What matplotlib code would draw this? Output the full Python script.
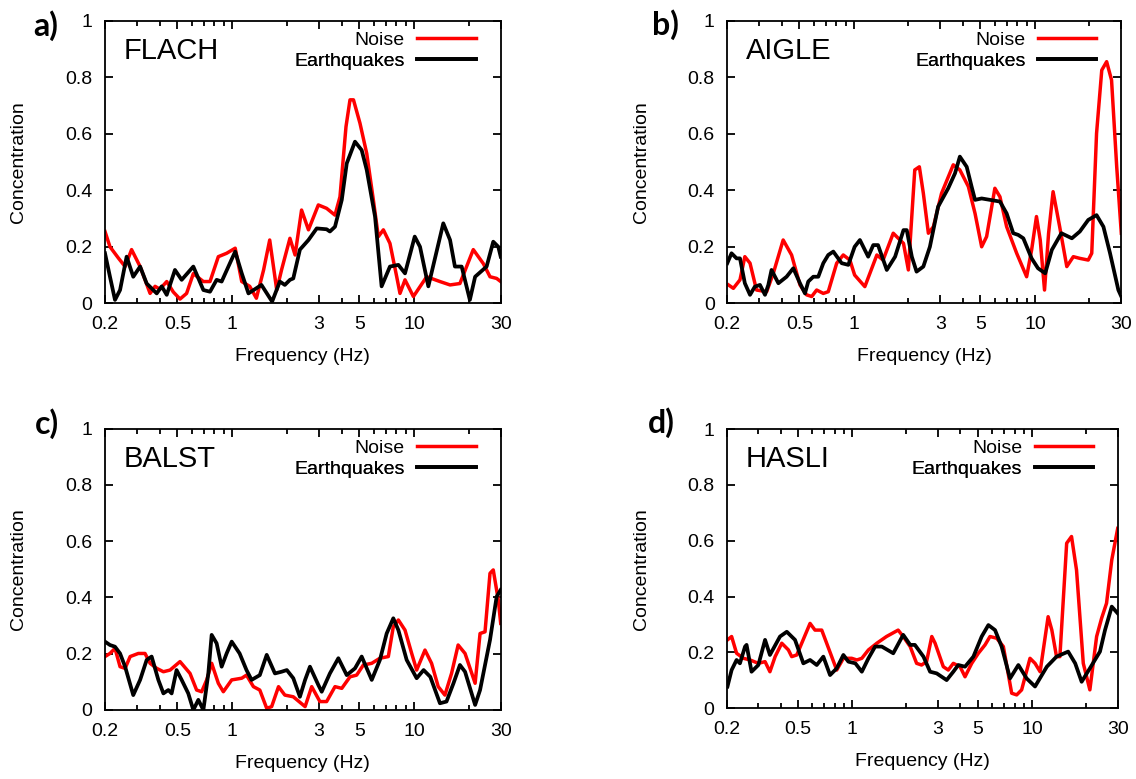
import matplotlib
matplotlib.use("Agg")
import matplotlib.pyplot as plt

plt.rcParams['font.family'] = ['Liberation Sans', 'DejaVu Sans']

# ---------------- data ----------------
stations = ["FLACH", "AIGLE", "BALST", "HASLI"]
panel_labels = ["a)", "b)", "c)", "d)"]
series_labels = ["Noise", "Earthquakes"]
xtick_vals = [0.2, 0.5, 1, 3, 5, 10, 30]
xtick_labels = ["0.2", "0.5", "1", "3", "5", "10", "30"]
xminor_vals = [0.3, 0.4, 0.6, 0.7, 0.8, 0.9, 2, 4, 6, 7, 8, 9, 20]
ytick_vals = [0, 0.2, 0.4, 0.6, 0.8, 1.0]
ytick_labels = ["0", "0.2", "0.4", "0.6", "0.8", "1"]

# FLACH
freq_noise_a = [0.2, 0.213, 0.237, 0.258, 0.280, 0.312, 0.354, 0.377, 0.401, 0.437, 0.475, 0.517, 0.562, 0.612,
                0.695, 0.756, 0.840, 0.933, 1.04, 1.13, 1.25, 1.36, 1.49, 1.61, 1.76, 1.87, 2.08, 2.22, 2.41, 2.63,
                2.98, 3.31, 3.68, 3.92, 4.23, 4.45, 4.65, 5.05, 5.50, 5.98, 6.37, 6.79, 7.38, 8.04, 8.38, 8.93, 9.93,
                11.75, 13.9, 15.8, 17.9, 21.2, 24.1, 26.2, 28.5, 30]
conc_noise_a = [0.254, 0.20, 0.16, 0.13, 0.19, 0.13, 0.035, 0.06, 0.05, 0.077, 0.04, 0.015, 0.035, 0.105, 0.077,
                0.077, 0.165, 0.177, 0.195, 0.077, 0.06, 0.018, 0.118, 0.224, 0.047, 0.118, 0.23, 0.171, 0.33, 0.26,
                0.348, 0.336, 0.312, 0.377, 0.625, 0.72, 0.72, 0.637, 0.53, 0.366, 0.236, 0.26, 0.212, 0.094, 0.035,
                0.083, 0.024, 0.094, 0.077, 0.065, 0.07, 0.19, 0.14, 0.094, 0.088, 0.077]
freq_eq_a = [0.2, 0.213, 0.227, 0.242, 0.263, 0.286, 0.312, 0.339, 0.385, 0.410, 0.437, 0.485, 0.528, 0.612, 0.695,
             0.756, 0.822, 0.876, 0.973, 1.04, 1.13, 1.23, 1.45, 1.66, 1.83, 1.95, 2.08, 2.17, 2.36, 2.63, 2.92,
             3.31, 3.45, 3.68, 4.01, 4.27, 4.74, 5.16, 5.50, 6.11, 6.64, 7.38, 8.21, 8.93, 10.1, 10.8, 12.0, 14.5,
             15.8, 16.8, 18.3, 20.3, 21.7, 25.1, 27.3, 29.1, 30]
conc_eq_a = [0.177, 0.094, 0.012, 0.047, 0.165, 0.094, 0.13, 0.07, 0.035, 0.06, 0.03, 0.118, 0.083, 0.13, 0.047,
             0.041, 0.083, 0.077, 0.142, 0.183, 0.106, 0.035, 0.065, 0.006, 0.077, 0.065, 0.083, 0.088, 0.19, 0.224,
             0.265, 0.262, 0.254, 0.271, 0.366, 0.495, 0.572, 0.542, 0.472, 0.307, 0.06, 0.13, 0.136, 0.106, 0.236,
             0.2, 0.06, 0.283, 0.224, 0.13, 0.13, 0.012, 0.094, 0.13, 0.218, 0.2, 0.165]

# AIGLE
freq_noise_b = [0.203, 0.216, 0.235, 0.250, 0.267, 0.290, 0.330, 0.359, 0.407, 0.453, 0.504, 0.548, 0.585, 0.623,
                0.678, 0.722, 0.804, 0.874, 0.951, 1.01, 1.15, 1.34, 1.45, 1.65, 1.76, 1.88, 2.00, 2.17, 2.30, 2.42,
                2.58, 2.75, 3.05, 3.54, 3.85, 4.29, 4.67, 5.08, 5.41, 6.01, 6.41, 6.98, 7.93, 9.00, 9.59, 10.2, 10.7,
                11.3, 11.9, 12.6, 13.7, 15.0, 16.3, 17.7, 19.7, 20.6, 21.9, 23.4, 24.9, 26.5, 28.3, 30]
conc_noise_b = [0.065, 0.053, 0.083, 0.165, 0.142, 0.047, 0.041, 0.106, 0.224, 0.171, 0.065, 0.03, 0.024, 0.047,
                0.035, 0.041, 0.142, 0.171, 0.153, 0.1, 0.059, 0.171, 0.153, 0.248, 0.23, 0.212, 0.118, 0.472, 0.483,
                0.389, 0.248, 0.271, 0.389, 0.49, 0.472, 0.413, 0.318, 0.2, 0.236, 0.407, 0.377, 0.271, 0.177, 0.094,
                0.189, 0.307, 0.224, 0.047, 0.248, 0.395, 0.271, 0.13, 0.165, 0.159, 0.153, 0.177, 0.601, 0.825,
                0.855, 0.79, 0.483, 0.248]
freq_eq_b = [0.2, 0.211, 0.225, 0.235, 0.250, 0.267, 0.284, 0.303, 0.323, 0.337, 0.351, 0.383, 0.425, 0.463, 0.504,
             0.537, 0.560, 0.597, 0.636, 0.678, 0.722, 0.770, 0.856, 0.932, 1.01, 1.08, 1.20, 1.28, 1.36, 1.52, 1.69,
             1.88, 1.96, 2.09, 2.22, 2.42, 2.63, 2.92, 3.32, 3.62, 3.85, 4.20, 4.47, 4.67, 5.08, 5.65, 6.41, 6.98,
             7.59, 8.09, 8.63, 9.59, 10.4, 11.4, 12.4, 14.0, 16.0, 17.7, 19.7, 21.9, 23.9, 26.0, 28.9, 30]
conc_eq_b = [0.142, 0.177, 0.159, 0.159, 0.071, 0.03, 0.059, 0.065, 0.03, 0.065, 0.118, 0.071, 0.094, 0.124, 0.071,
             0.035, 0.077, 0.094, 0.094, 0.142, 0.171, 0.183, 0.142, 0.136, 0.2, 0.224, 0.165, 0.206, 0.206, 0.118,
             0.165, 0.259, 0.259, 0.165, 0.112, 0.13, 0.2, 0.342, 0.407, 0.46, 0.519, 0.483, 0.413, 0.366, 0.371,
             0.366, 0.36, 0.318, 0.248, 0.242, 0.23, 0.159, 0.124, 0.106, 0.189, 0.248, 0.23, 0.254, 0.295, 0.312,
             0.271, 0.177, 0.047, 0.024]

# BALST
freq_noise_c = [0.2, 0.213, 0.227, 0.242, 0.258, 0.275, 0.305, 0.332, 0.354, 0.385, 0.419, 0.456, 0.517, 0.587,
                0.638, 0.680, 0.725, 0.772, 0.840, 0.895, 0.995, 1.13, 1.20, 1.31, 1.42, 1.55, 1.65, 1.80, 1.95, 2.17,
                2.52, 2.74, 3.04, 3.31, 3.68, 4.01, 4.45, 4.84, 5.27, 5.86, 6.50, 7.23, 7.70, 8.21, 8.93, 9.72, 10.35,
                11.5, 12.5, 13.6, 14.8, 16.1, 17.5, 19.1, 21.7, 23.1, 24.6, 26.2, 27.3, 29.1, 30]
conc_noise_c = [0.19, 0.201, 0.219, 0.154, 0.148, 0.19, 0.201, 0.201, 0.166, 0.148, 0.136, 0.142, 0.172, 0.13, 0.071,
                0.065, 0.107, 0.166, 0.095, 0.065, 0.107, 0.113, 0.124, 0.083, 0.071, 0.006, 0.012, 0.083, 0.053,
                0.047, 0.012, 0.083, 0.03, 0.03, 0.083, 0.077, 0.118, 0.124, 0.16, 0.166, 0.184, 0.19, 0.296, 0.32,
                0.284, 0.201, 0.142, 0.213, 0.166, 0.083, 0.053, 0.13, 0.231, 0.201, 0.095, 0.272, 0.278, 0.486,
                0.498, 0.391, 0.308]
freq_eq_c = [0.2, 0.213, 0.227, 0.242, 0.258, 0.286, 0.312, 0.339, 0.361, 0.393, 0.419, 0.446, 0.465, 0.495, 0.528,
             0.574, 0.612, 0.652, 0.695, 0.740, 0.772, 0.822, 0.876, 0.933, 0.995, 1.10, 1.20, 1.28, 1.42, 1.55, 1.72,
             1.87, 2.0, 2.17, 2.36, 2.52, 2.68, 2.98, 3.11, 3.45, 3.84, 4.27, 4.74, 5.16, 5.86, 6.50, 7.08, 7.70,
             8.21, 9.12, 10.35, 11.3, 12.3, 13.9, 15.1, 16.5, 17.9, 19.1, 21.7, 23.1, 26.2, 28.5, 30]
conc_eq_c = [0.243, 0.231, 0.225, 0.201, 0.154, 0.053, 0.107, 0.178, 0.19, 0.107, 0.059, 0.071, 0.059, 0.142, 0.107,
             0.059, 0.0, 0.036, 0.0, 0.13, 0.267, 0.237, 0.154, 0.201, 0.243, 0.201, 0.142, 0.107, 0.124, 0.196,
             0.13, 0.136, 0.142, 0.113, 0.047, 0.107, 0.154, 0.089, 0.065, 0.13, 0.184, 0.124, 0.148, 0.19, 0.107,
             0.178, 0.272, 0.326, 0.284, 0.178, 0.113, 0.142, 0.118, 0.024, 0.03, 0.095, 0.16, 0.136, 0.018, 0.071,
             0.249, 0.403, 0.427]

# HASLI
freq_noise_d = [0.202, 0.213, 0.227, 0.248, 0.270, 0.300, 0.327, 0.348, 0.372, 0.405, 0.441, 0.460, 0.491, 0.523,
                0.582, 0.620, 0.676, 0.768, 0.819, 0.892, 0.992, 1.06, 1.13, 1.23, 1.37, 1.55, 1.80, 1.92, 2.10, 2.28,
                2.43, 2.59, 2.77, 2.89, 3.21, 3.42, 3.65, 3.98, 4.24, 4.62, 5.03, 5.48, 5.84, 6.36, 6.93, 7.71, 8.22,
                8.76, 9.75, 10.4, 11.1, 12.3, 12.9, 13.7, 14.3, 15.6, 16.6, 17.7, 19.3, 21.0, 22.9, 24.4, 26.0, 27.8,
                30]
conc_noise_d = [0.245, 0.257, 0.197, 0.179, 0.173, 0.161, 0.167, 0.131, 0.185, 0.233, 0.209, 0.185, 0.191, 0.233,
                0.304, 0.28, 0.28, 0.185, 0.137, 0.179, 0.179, 0.173, 0.179, 0.209, 0.233, 0.257, 0.28, 0.257, 0.221,
                0.161, 0.155, 0.167, 0.257, 0.233, 0.149, 0.137, 0.161, 0.149, 0.113, 0.161, 0.197, 0.227, 0.257,
                0.251, 0.221, 0.054, 0.048, 0.066, 0.179, 0.161, 0.131, 0.328, 0.28, 0.185, 0.185, 0.591, 0.615,
                0.495, 0.161, 0.066, 0.257, 0.322, 0.376, 0.531, 0.644]
freq_eq_d = [0.202, 0.213, 0.227, 0.237, 0.253, 0.258, 0.275, 0.300, 0.327, 0.348, 0.396, 0.432, 0.480, 0.534, 0.582,
             0.634, 0.690, 0.752, 0.819, 0.892, 0.951, 1.04, 1.13, 1.23, 1.34, 1.46, 1.69, 1.92, 2.10, 2.23, 2.49,
             2.71, 2.95, 3.35, 3.65, 3.89, 4.24, 4.72, 5.25, 5.72, 6.23, 6.78, 7.55, 8.40, 9.34, 10.4, 12.1, 13.7,
             15.9, 17.4, 18.9, 21.0, 23.9, 25.5, 27.8, 30]
conc_eq_d = [0.078, 0.137, 0.173, 0.161, 0.221, 0.227, 0.131, 0.155, 0.245, 0.191, 0.257, 0.274, 0.245, 0.161, 0.173,
             0.155, 0.185, 0.119, 0.143, 0.191, 0.167, 0.161, 0.131, 0.179, 0.221, 0.221, 0.197, 0.263, 0.227, 0.227,
             0.185, 0.131, 0.125, 0.101, 0.131, 0.155, 0.149, 0.185, 0.257, 0.298, 0.28, 0.221, 0.107, 0.155, 0.107,
             0.078, 0.149, 0.185, 0.203, 0.161, 0.095, 0.143, 0.203, 0.28, 0.364, 0.34]

panels = [
    (freq_noise_a, conc_noise_a, freq_eq_a, conc_eq_a),
    (freq_noise_b, conc_noise_b, freq_eq_b, conc_eq_b),
    (freq_noise_c, conc_noise_c, freq_eq_c, conc_eq_c),
    (freq_noise_d, conc_noise_d, freq_eq_d, conc_eq_d),
]

# ---------------- layout ----------------
W, H = 1136, 779
fig = plt.figure(figsize=(W / 100, H / 100), dpi=100)
fig.patch.set_facecolor("white")

# (left, right, top, bottom) in pixels
boxes = [(105, 500.7, 20.7, 303.3), (727.3, 1121.3, 20.7, 303.3),
         (105, 500.7, 428.7, 710), (726.7, 1117.7, 429, 708.3)]
label_pos = [(33, 36), (652, 35), (35, 434), (648, 433)]

for i, (l, r, t, b) in enumerate(boxes):
    ax = fig.add_axes([l / W, 1 - b / H, (r - l) / W, (b - t) / H])
    fn, cn, fe, ce = panels[i]
    ln_n, = ax.plot(fn, cn, color="#ff0000", lw=2.5, solid_joinstyle="round")
    ln_e, = ax.plot(fe, ce, color="black", lw=2.7, solid_joinstyle="round")
    ax.set_xscale("log")
    ax.set_xlim(0.2, 30)
    ax.set_ylim(0, 1)
    ax.set_xticks(xtick_vals)
    ax.set_xticklabels(xtick_labels)
    ax.set_xticks(xminor_vals, minor=True)
    ax.set_xticklabels([], minor=True)
    ax.set_yticks(ytick_vals)
    ax.set_yticklabels(ytick_labels)
    ax.tick_params(which="both", direction="in", top=True, right=True, labelsize=14, width=1.3)
    ax.tick_params(which="major", length=6, pad=9)
    ax.tick_params(which="minor", length=3.5)
    for sp in ax.spines.values():
        sp.set_linewidth(1.3)
    ax.set_xlabel("Frequency (Hz)", fontsize=14, labelpad=11)
    ax.set_ylabel("Concentration", fontsize=14)
    ax.yaxis.set_label_coords(-0.197, 0.5)
    ax.text(0.048, 0.864, stations[i], transform=ax.transAxes, fontsize=21, va="baseline", ha="left")

    for ln, lab, yy in [(ln_n, series_labels[0], 0.932), (ln_e, series_labels[1], 0.857)]:
        leg = ax.legend([ln], [lab], loc="center right", bbox_to_anchor=(0.937, yy),
                        frameon=False, markerfirst=False, handlelength=3.0, handletextpad=0.65,
                        borderpad=0, borderaxespad=0, fontsize=14)
        ax.add_artist(leg)

    fig.text(label_pos[i][0] / W, 1 - label_pos[i][1] / H, panel_labels[i], fontsize=23,
             fontweight="bold", family=["Lato", "DejaVu Sans"], va="baseline", ha="left")

fig.savefig("out.png", dpi=100, facecolor="white")
